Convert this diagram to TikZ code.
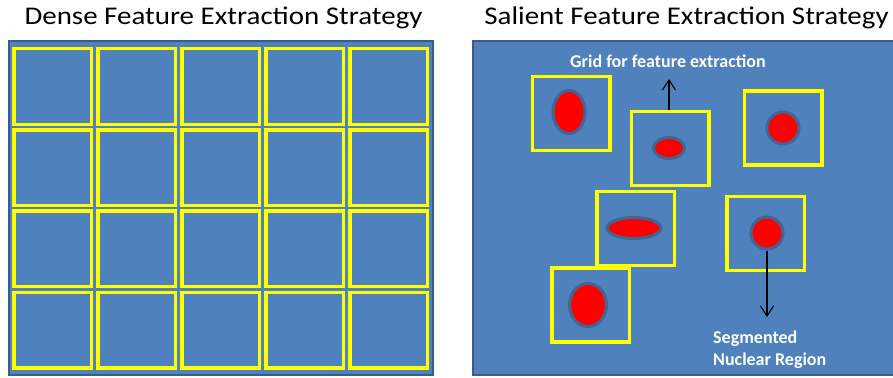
\documentclass[tikz,border=0pt]{standalone}
\usepackage{fontspec}
\setmainfont{Carlito}
\usetikzlibrary{shapes.geometric,arrows.meta}
\definecolor{panelblue}{HTML}{4F81BD}
\definecolor{paneledge}{HTML}{385D8A}
\definecolor{cellyellow}{HTML}{FFFF00}
\definecolor{nucred}{HTML}{FF0000}
\definecolor{nucedge}{HTML}{3E6796}
\tikzset{
  panel/.style={fill=panelblue,draw=paneledge,line width=2.2pt},
  cell/.style={draw=cellyellow,line width=3.5pt},
  gridbox/.style={draw=cellyellow,line width=3.5pt,minimum width=77.5pt,minimum height=74pt,inner sep=0pt},
  nucleus/.style={ellipse,fill=nucred,draw=nucedge,line width=3pt,inner sep=0pt},
  title/.style={font=\fontsize{25.5}{30}\selectfont,anchor=base,inner sep=0pt,xscale=1.135},
  lbl/.style={font=\bfseries\fontsize{18}{22}\selectfont,text=white,inner sep=0pt},
  arr/.style={draw=black,line width=1.1pt,-{Straight Barb[length=10pt,width=13pt,line width=1.1pt]}}
}
\begin{document}
\begin{tikzpicture}[x=1pt,y=-1pt]
\useasboundingbox (0,0) rectangle (893,377);
% titles
\node[title] (t1) at (223.5,25) {Dense Feature Extraction Strategy};
\node[title] (t2) at (686.5,25) {Salient Feature Extraction Strategy};
% left panel
\draw[panel] (9,41) rectangle (433,375);
\foreach \i in {0,...,4}{
  \foreach \j in {0,...,3}{
    \draw[cell] ({12+84*\i+1.75},{47+81.2*\j+1.75}) rectangle ++(77.5,75.5);
  }
}
% right panel
\draw[panel] (473,41) rectangle (898,375);
% boxes
\node[gridbox] (bA) at (571,113.5) {};
\node[gridbox] (bB) at (670,148.5) {};
\node[gridbox] (bC) at (783,128) {};
\node[gridbox] (bD) at (635.5,228.5) {};
\node[gridbox] (bE) at (590.5,305) {};
\node[gridbox] (bF) at (765.5,233.5) {};
% nuclei
\node[nucleus,minimum width=32pt,minimum height=43pt] (nA) at (569,112) {};
\node[nucleus,minimum width=31pt,minimum height=21pt] (nB) at (669,148) {};
\node[nucleus,minimum width=32pt,minimum height=32pt] (nC) at (783,128) {};
\node[nucleus,minimum width=54pt,minimum height=21pt] (nD) at (634,228) {};
\node[nucleus,minimum width=37pt,minimum height=43pt] (nE) at (588,305) {};
\node[nucleus,minimum width=32pt,minimum height=32pt] (nF) at (767,233) {};
% labels
\node[lbl] (lgrid) at (668,61) {Grid for feature extraction};
\node[lbl,anchor=base west,align=left] (lseg) at (713,365) {Segmented\\Nuclear Region};
% arrows
\coordinate (up) at (669,79);
\coordinate (down) at (767,317);
\draw[arr] (bB.north -| nB) -- (up);
\draw[arr] (nF.south) -- (down);
\end{tikzpicture}
\end{document}
